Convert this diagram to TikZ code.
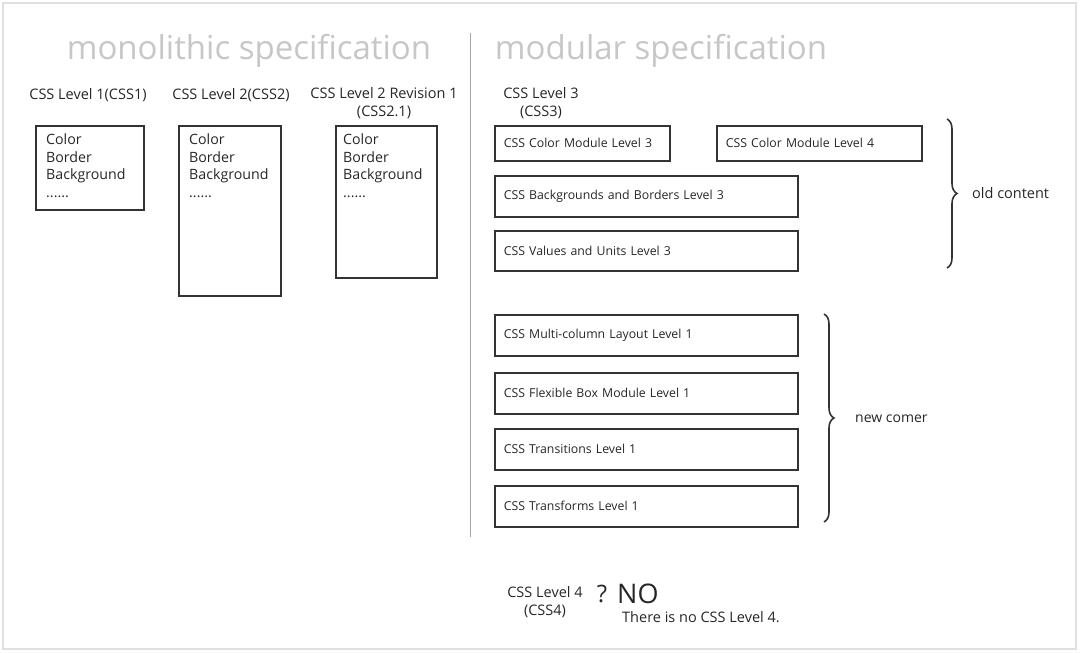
\documentclass[tikz,border=0pt]{standalone}
\usepackage{fontspec}
\setmainfont{Open Sans}
\usetikzlibrary{positioning,calc,decorations.pathreplacing}

\begin{document}
\begin{tikzpicture}[x=1pt, y=-1pt, every node/.style={font=\fontsize{14.5}{17.5}\selectfont, text=black!85}]
	\tikzstyle{title} = [anchor=base, font=\fontsize{33}{33}\selectfont, text=black!22]
	\tikzstyle{spec} = [rectangle, anchor=north west, draw=black!80, line width=1.6pt, inner sep=0pt]
	\tikzstyle{features} = [anchor=north west, align=left, inner sep=0pt, font=\fontsize{14.2}{17.5}\selectfont]
	\tikzstyle{module} = [rectangle, anchor=north west, draw=black!80, line width=1.6pt,
	inner xsep=9pt, inner ysep=0pt, align=left, font=\fontsize{12.3}{15}\selectfont]
	\tikzstyle{level} = [align=center, inner sep=0pt]
	\tikzstyle{bracket} = [draw=black!80, line width=1.6pt, decorate, decoration={brace, amplitude=10pt}]
	\useasboundingbox (0,0) rectangle (1080,653);
	\draw[black!12, line width=1.5pt] (3,3) rectangle (1076,649);
	% titles and divider
	\node (mono_title) at (249,59) [title] {monolithic specification};
	\node (modular_title) at (661,59) [title] {modular specification};
	\draw[black!35, line width=1pt] (470,33) -- (470,537);
	% monolithic
	\node (css1) at (88,95) [level] {CSS Level 1(CSS1)};
	\node (css1_box) at (35,125) [spec, minimum width=108pt, minimum height=84pt] {};
	\node (css1_list) at ($(css1_box.north west)+(11,9)$) [features] {Color\\Border\\Background\\......};
	\node (css2) at (231,95) [level] {CSS Level 2(CSS2)};
	\node (css2_box) at (178,125) [spec, minimum width=102pt, minimum height=170pt] {};
	\node (css2_list) at ($(css2_box.north west)+(11,9)$) [features] {Color\\Border\\Background\\......};
	\node (css21) at (384,103) [level] {CSS Level 2 Revision 1\\(CSS2.1)};
	\node (css21_box) at (335,125) [spec, minimum width=101pt, minimum height=152pt] {};
	\node (css21_list) at ($(css21_box.north west)+(8,9)$) [features] {Color\\Border\\Background\\......};
	% old content
	\node (css3) at (541,103) [level] {CSS Level 3\\(CSS3)};
	\node (color3) at (494,125) [module, minimum width=175pt, minimum height=35pt, text width=157pt] {CSS Color Module Level 3};
	\node (color4) at (716,125) [module, minimum width=205pt, minimum height=35pt, text width=187pt] {CSS Color Module Level 4};
	\node (backgrounds) at (494,175) [module, minimum width=303pt, minimum height=41pt, text width=285pt] {CSS Backgrounds and Borders Level 3};
	\node (values) at (494,230) [module, minimum width=303pt, minimum height=40pt, text width=285pt] {CSS Values and Units Level 3};
	\coordinate (old_top) at (947,119);
	\coordinate (old_bottom) at (947,268);
	\draw[bracket] (old_top) -- (old_bottom);
	\node (old_content) at ($(old_top)!0.5!(old_bottom)+(25,0)$) [anchor=west, inner sep=0pt] {old content};
	% new comer
	\node (multicol) at (494,314) [module, minimum width=303pt, minimum height=41pt, text width=285pt] {CSS Multi-column Layout Level 1};
	\node (flexbox) at (494,372) [module, minimum width=303pt, minimum height=41pt, text width=285pt] {CSS Flexible Box Module Level 1};
	\node (transitions) at (494,428) [module, minimum width=303pt, minimum height=41pt, text width=285pt] {CSS Transitions Level 1};
	\node (transforms) at (494,485) [module, minimum width=303pt, minimum height=41pt, text width=285pt] {CSS Transforms Level 1};
	\coordinate (new_top) at (824,314);
	\coordinate (new_bottom) at (824,522);
	\draw[bracket] (new_top) -- (new_bottom);
	\node (new_comer) at ($(new_top)!0.5!(new_bottom)+(31,1)$) [anchor=west, inner sep=0pt, font=\fontsize{14}{17}\selectfont] {new comer};
	% css4
	\node (css4) at (545,602) [level] {CSS Level 4\\(CSS4)};
	\node (question) at (602,594) [font=\fontsize{24}{24}\selectfont, inner sep=0pt] {?};
	\node (no) at (617,594) [anchor=west, font=\fontsize{27}{27}\selectfont, inner sep=0pt] {NO};
	\node (no_css4) at (622,617) [anchor=west, inner sep=0pt] {There is no CSS Level 4.};
\end{tikzpicture}
\end{document}
